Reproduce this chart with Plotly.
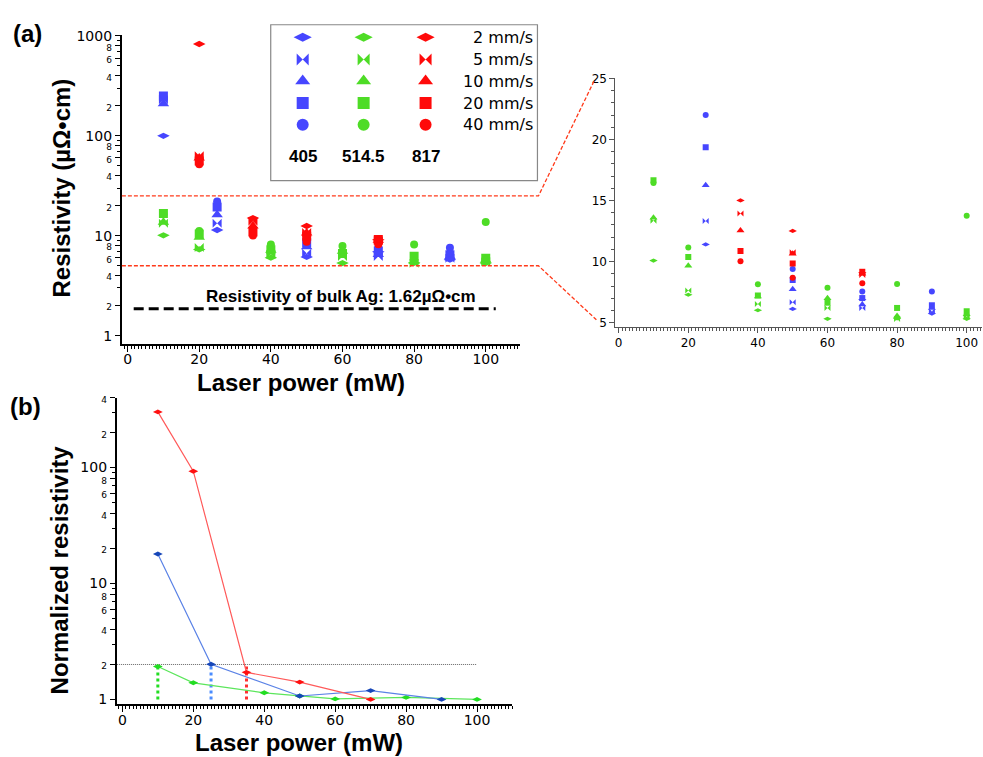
import math
import plotly.graph_objects as go

W, H = 983, 757
BOLD = "Liberation Sans, Arial, sans-serif"
TICKFONT = "DejaVu Sans, Verdana, sans-serif"

# ---------------- data ----------------
speeds = ["2 mm/s", "5 mm/s", "10 mm/s", "20 mm/s", "40 mm/s"]
wavelengths = ["405", "514.5", "817"]

# 405 nm (blue)
power_405 = [10, 25, 50, 70, 90]
res_405_2 = [100, 11.41, 6.13, 6.9, 5.75]
res_405_5 = [230, 13.32, 6.67, 6.2, 5.94]
res_405_10 = [210, 16.25, 7.75, 6.5, 6.2]
res_405_20 = [250, 19.37, 8.5, 7.02, 6.43]
res_405_40 = [None, 22.0, 9.39, 7.56, 7.56]

# 514.5 nm (green)
power_514 = [10, 20, 40, 60, 80, 100]
res_514_2 = [10.09, 7.29, 6.02, 5.32, 5.35, 5.32]
res_514_5 = [13.35, 7.64, 6.53, 6.2, 5.3, 5.5]
res_514_10 = [13.6, 9.66, 7.15, 7.0, 5.56, 5.7]
res_514_20 = [16.66, 10.38, 7.23, 6.64, 6.21, 5.94]
res_514_40 = [16.44, 11.16, 8.15, 7.87, 8.18, 13.75]

# 817 nm (red)
power_817 = [20, 35, 50, 70]
res_817_2 = [830, 15.01, 12.51, 9.1]
res_817_5 = [63, 13.94, 10.76, 8.9]
res_817_10 = [60, 12.54, 10.65, 9.0]
res_817_20 = [56, 10.87, 9.85, 9.17]
res_817_40 = [52, 10.03, 8.69, 8.23]

bulk_ag_level = 1.86
bulk_ag_label = "Resistivity of bulk Ag: 1.62µΩ•cm"

# panel (b) normalized resistivity
norm_817_x = [10, 20, 35, 50, 70]
norm_817_y = [302, 93, 1.71, 1.41, 1.0]
norm_405_x = [10, 25, 50, 70, 90]
norm_405_y = [17.96, 2.01, 1.07, 1.19, 1.0]
norm_514_x = [10, 20, 40, 50, 60, 80, 100]
norm_514_y = [1.92, 1.39, 1.14, 1.07, 1.01, 1.04, 1.0]
threshold = 2
cross_x = [10, 25, 35]          # green, blue, red
cross_top = [1.92, 2.0, 2.0]

# ---------------- styles ----------------
colors = ["#4646FF", "#4EDC26", "#FF0A0A"]
b_line_colors = ["#5A82E6", "#5CE65C", "#FF5A5A"]
b_marker_colors = ["#1646B8", "#22DD22", "#FF1010"]
b_cross_colors = ["#22DD22", "#4A8CFF", "#FF3030"]
symbols = ["diamond-wide", "bowtie", "triangle-up", "square", "circle"]
main_sizes = [9, 9, 10, 9, 8]
inset_sizes = [6, 6, 7, 6, 6]
legend_sizes = [13, 12, 13, 12, 12]

series = [
    (power_405, [res_405_2, res_405_5, res_405_10, res_405_20, res_405_40]),
    (power_514, [res_514_2, res_514_5, res_514_10, res_514_20, res_514_40]),
    (power_817, [res_817_2, res_817_5, res_817_10, res_817_20, res_817_40]),
]

def px(x):
    return x / W

def py(y):
    return 1 - y / H

# axis geometry (pixels)
A_L, A_R, A_T, A_B = 121, 520, 28.3, 342
A_YR = [-0.089, 3.01]
I_L, I_R, I_T, I_B = 615, 982, 71.7, 324.3
I_YR = [4.65, 25.05]
B_L, B_R, B_T, B_B = 116, 512, 396, 706.7
B_YR = [-0.043, 2.602]

fig = go.Figure()

# panel (a) main + inset
for ci, (pw, lists) in enumerate(series):
    for si in [4, 3, 2, 1, 0]:
        vals = lists[si]
        fig.add_trace(go.Scatter(x=pw, y=vals, mode="markers", xaxis="x", yaxis="y",
                                 marker=dict(symbol=symbols[si], size=main_sizes[si], color=colors[ci],
                                             line=dict(width=0)),
                                 showlegend=False, hoverinfo="skip"))
        fig.add_trace(go.Scatter(x=pw, y=vals, mode="markers", xaxis="x2", yaxis="y2",
                                 marker=dict(symbol=symbols[si], size=inset_sizes[si], color=colors[ci],
                                             line=dict(width=0)),
                                 showlegend=False, hoverinfo="skip"))

# bulk Ag line
fig.add_trace(go.Scatter(x=[1.7, 102.8], y=[bulk_ag_level, bulk_ag_level], mode="lines",
                         xaxis="x", yaxis="y", line=dict(color="black", width=3, dash="10px,5px"),
                         showlegend=False, hoverinfo="skip"))

# panel (b)
b_series = [(norm_405_x, norm_405_y), (norm_514_x, norm_514_y), (norm_817_x, norm_817_y)]
fig.add_trace(go.Scatter(x=[-1.55, 100], y=[threshold, threshold], mode="lines", xaxis="x3", yaxis="y3",
                         line=dict(color="#222222", width=0.7, dash="1px,1px"), showlegend=False,
                         hoverinfo="skip"))
for k, (cx, ct) in enumerate(zip(cross_x, cross_top)):
    fig.add_trace(go.Scatter(x=[cx, cx], y=[1.0, ct], mode="lines", xaxis="x3", yaxis="y3",
                             line=dict(color=b_cross_colors[k], width=3, dash="dot"),
                             showlegend=False, hoverinfo="skip"))
for ci in [1, 0, 2]:
    bx, by = b_series[ci]
    fig.add_trace(go.Scatter(x=bx, y=by, mode="lines+markers", xaxis="x3", yaxis="y3",
                             line=dict(color=b_line_colors[ci], width=1.2),
                             marker=dict(symbol="diamond-wide", size=7, color=b_marker_colors[ci]),
                             showlegend=False, hoverinfo="skip"))

# overlay pixel axis: connectors and legend markers
def a_ypix(v):
    return A_T + (A_YR[1] - math.log10(v)) / (A_YR[1] - A_YR[0]) * (A_B - A_T)

def i_ypix(v):
    return I_T + (I_YR[1] - v) / (I_YR[1] - I_YR[0]) * (I_B - I_T)

for v, dx, dy in [(25, 594, 2), (5, 596, -3)]:
    fig.add_trace(go.Scatter(x=[A_L, 538, dx], y=[a_ypix(v), a_ypix(v), i_ypix(v) + dy], mode="lines",
                             xaxis="x4", yaxis="y4", line=dict(color="#FF3A1A", width=1.3, dash="4px,2px"),
                             showlegend=False, hoverinfo="skip"))

leg_cols = [302, 363, 425]
leg_rows = [30.7, 53.3, 75, 97.3, 119.3]
for ci in range(3):
    for si in range(5):
        fig.add_trace(go.Scatter(x=[leg_cols[ci]], y=[leg_rows[si]], mode="markers", xaxis="x4", yaxis="y4",
                                 marker=dict(symbol=symbols[si], size=legend_sizes[si], color=colors[ci],
                                             line=dict(width=0)),
                                 showlegend=False, hoverinfo="skip"))

# ---------------- axes ----------------
def log_ticks(vals):
    txt = []
    for v in vals:
        if math.log10(v) == int(math.log10(v)):
            txt.append(str(v))
        else:
            txt.append("<span style='font-size:9px'>%s</span>" % str(v)[0])
    return txt

a_tickvals = [1, 2, 4, 6, 8, 10, 20, 40, 60, 80, 100, 200, 400, 600, 800, 1000]
a_minor = [3, 5, 7, 9, 30, 50, 70, 90, 300, 500, 700, 900]
b_tickvals = [1, 2, 4, 6, 8, 10, 20, 40, 60, 80, 100, 200, 400]
b_minor = [3, 5, 7, 9, 30, 50, 70, 90, 300]

def xax(dom, rng, anchor, color="black", lw=2, size=15, tl=6, so=0):
    return dict(domain=dom, range=rng, anchor=anchor, tickmode="linear", tick0=0, dtick=20,
                ticks="outside", ticklen=tl, tickwidth=1.2, tickcolor=color, ticklabelstandoff=so,
                showline=True, linewidth=lw, linecolor=color, showgrid=False, zeroline=False,
                tickfont=dict(family=TICKFONT, size=size, color="black"),
                minor=dict(tick0=0, dtick=1, ticks="outside", ticklen=3, tickwidth=1, tickcolor=color,
                           showgrid=False))

def ylogax(dom, rng, anchor, tv, mv):
    return dict(domain=dom, range=rng, anchor=anchor, type="log", tickmode="array",
                tickvals=tv, ticktext=log_ticks(tv), ticks="outside", ticklen=5, tickwidth=1.2,
                tickcolor="black", showline=True, linewidth=2, linecolor="black", showgrid=False,
                zeroline=False, tickfont=dict(family=TICKFONT, size=14, color="black"),
                minor=dict(tickvals=mv, ticks="outside", ticklen=3, tickwidth=1, tickcolor="black",
                           showgrid=False))

fig.update_layout(
    width=W, height=H, margin=dict(l=0, r=0, t=0, b=0),
    paper_bgcolor="white", plot_bgcolor="rgba(0,0,0,0)", showlegend=False,
    xaxis=xax([px(A_L), px(A_R)], [-1.6, 109.7], "y", size=14, so=-5),
    yaxis=ylogax([py(A_B), py(A_T)], A_YR, "x", a_tickvals, a_minor),
    xaxis2=xax([px(I_L), px(I_R)], [-0.95, 104.4], "y2", color="#555555", lw=1, size=12, tl=5),
    yaxis2=dict(domain=[py(I_B), py(I_T)], range=I_YR, anchor="x2", tickmode="linear", tick0=5, dtick=5,
                ticks="outside", ticklen=5, tickwidth=1, tickcolor="#555555", showline=True, linewidth=1,
                linecolor="#555555", showgrid=False, zeroline=False,
                tickfont=dict(family=TICKFONT, size=12, color="black"),
                minor=dict(tick0=5, dtick=1, ticks="outside", ticklen=3, tickwidth=1, tickcolor="#555555",
                           showgrid=False)),
    xaxis3=xax([px(B_L), px(B_R)], [-1.55, 110], "y3", size=14, so=-4),
    yaxis3=ylogax([py(B_B), py(B_T)], B_YR, "x3", b_tickvals, b_minor),
    xaxis4=dict(domain=[0, 1], range=[0, W], anchor="y4", visible=False, fixedrange=True),
    yaxis4=dict(domain=[0, 1], range=[H, 0], anchor="x4", visible=False, fixedrange=True),
)

# legend box
fig.add_shape(type="rect", xref="paper", yref="paper", x0=px(270), x1=px(537), y0=py(176), y1=py(18),
              line=dict(color="#888888", width=1.2), fillcolor="rgba(0,0,0,0)", layer="below")

ann = []
def text(x, y, s, size, bold=True, family=BOLD, xanchor="center", angle=0):
    ann.append(dict(x=px(x), y=py(y), xref="paper", yref="paper", text=("<b>%s</b>" % s) if bold else s,
                    showarrow=False, xanchor=xanchor, yanchor="middle", textangle=angle,
                    font=dict(family=family, size=size, color="black")))

for si, lab in enumerate(speeds):
    text(535, leg_rows[si], lab, 16, bold=False, family=TICKFONT, xanchor="right")
for ci, lab in enumerate(wavelengths):
    text(leg_cols[ci], 151.7, lab, 17)

text(27, 27, "(a)", 24)
text(25, 405, "(b)", 24)
text(61, 183, "Resistivity (µΩ•cm)", 24, angle=-90)
text(59, 570, "Normalized resistivity", 24, angle=-90)
text(300, 381, "Laser power (mW)", 24)
text(298, 745, "Laser power (mW)", 24)
text(340, 293, bulk_ag_label, 17)

fig.update_layout(annotations=ann)
fig.write_html("out.html")
